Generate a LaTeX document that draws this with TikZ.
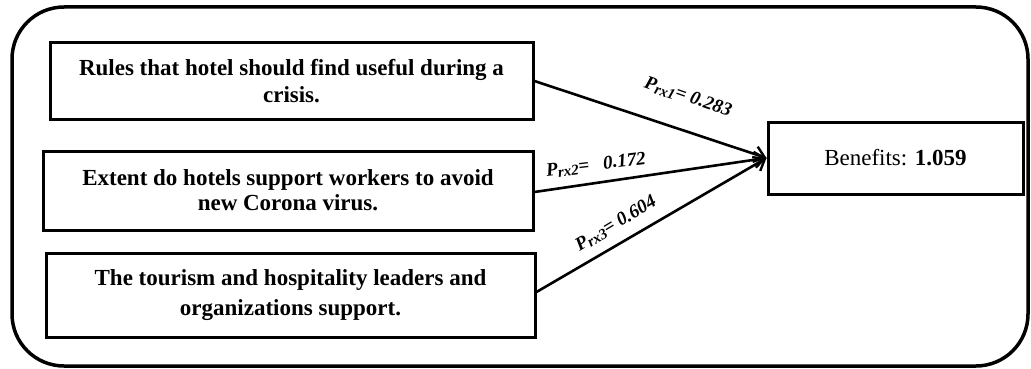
\documentclass[tikz,border=0pt]{standalone}
\usepackage{fontspec}
\setmainfont{Liberation Serif}
\usetikzlibrary{arrows.meta}
\newcommand\mysub[1]{\raisebox{-2.5pt}{\fontsize{15}{15}\selectfont #1}}
\begin{document}
\begin{tikzpicture}[x=1pt,y=-1pt,
  srcbox/.style={draw, line width=3pt, inner sep=0pt, align=center,
    font=\bfseries\fontsize{23}{27}\selectfont},
  conn/.style={line width=2.6pt, -{Straight Barb[length=10pt,width=16pt,line width=2.4pt]}},
  lab/.style={inner sep=0pt, font=\bfseries\itshape\fontsize{19}{19}\selectfont}]
\useasboundingbox (0,0) rectangle (1031,369);
\draw[line width=3.5pt, rounded corners=52pt] (12,7) rectangle (1028,366);
\node[srcbox, minimum width=483pt, minimum height=76pt] (b1) at (291.5,81)
  {Rules that hotel should find useful during a\\crisis.};
\node[srcbox, minimum width=490pt, minimum height=79pt, font=\bfseries\fontsize{23}{25}\selectfont] (b2) at (288,190.5)
  {Extent do hotels support workers to avoid\\new Corona virus.};
\node[srcbox, minimum width=489pt, minimum height=84pt, font=\bfseries\fontsize{23}{30}\selectfont] (b3) at (290.5,295)
  {The tourism and hospitality leaders and\\organizations support.};
\node[draw, line width=3pt, minimum width=255pt, minimum height=72pt, inner sep=0pt,
  font=\fontsize{23}{27}\selectfont] (ben) at (895.5,158)
  {Benefits: \textbf{1.059}};
\draw[conn] (b1.east) -- (ben.west);
\draw[conn] ([yshift=-1.5pt]b2.east) -- (ben.west);
\draw[conn] ([yshift=3pt]b3.east) -- (ben.west);
\node[lab, rotate=-19] (l1) at (688,97) {P\mysub{rx1}= 0.283};
\node[lab, rotate=7] (l2) at (596,165) {P\mysub{rx2}=\ \ \ 0.172};
\node[lab, rotate=31] (l3) at (616,224) {P\mysub{rx3}= 0.604};
\end{tikzpicture}
\end{document}
